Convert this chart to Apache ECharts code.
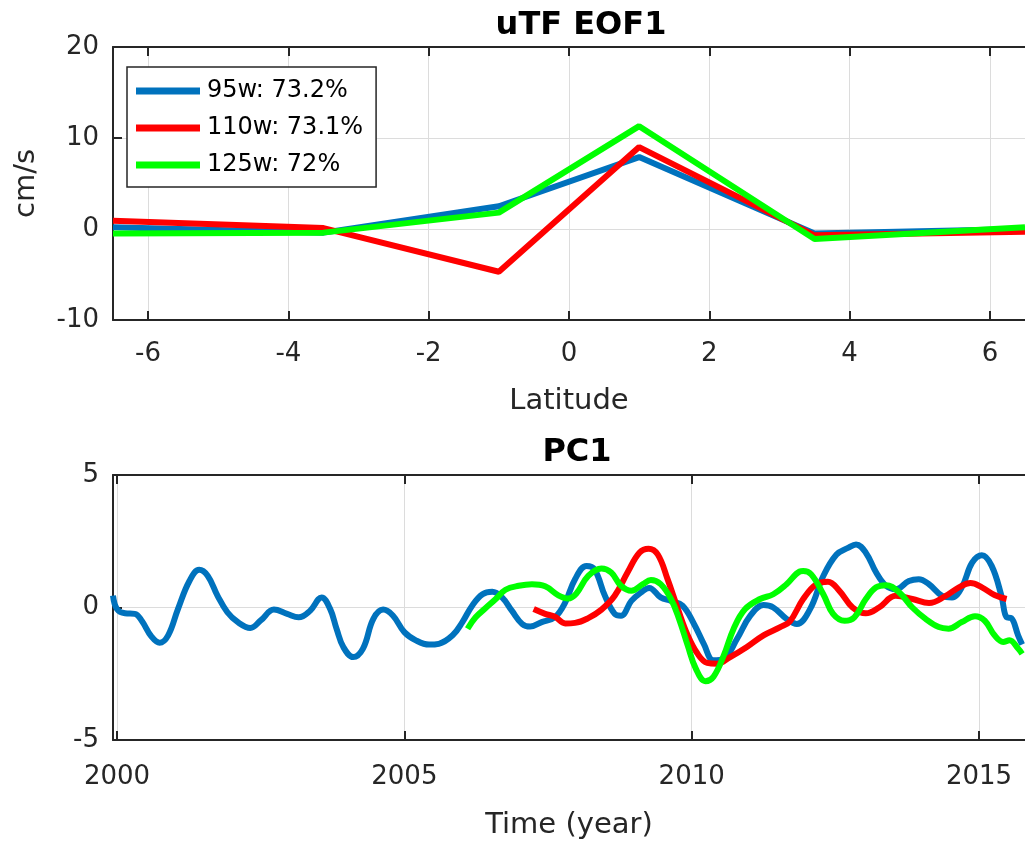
<!DOCTYPE html>
<html>
<head>
<meta charset="utf-8">
<script src="https://cdn.jsdelivr.net/npm/echarts@6/dist/echarts.min.js"></script>
<style>html,body{margin:0;padding:0;background:#fff;}#c{width:1025px;height:841px;}</style>
</head>
<body>
<div id="c"></div>
<script>
// ---- Top panel: uTF EOF1 ----
const latitudes = [-6.5, -3.5, -1, 1, 3.5, 6.5];
const eof95 = [0.2, -0.4, 2.5, 7.9, -0.5, 0.0];
const eof110 = [0.9, 0.1, -4.7, 9.0, -0.7, -0.3];
const eof125 = [-0.5, -0.4, 1.8, 11.3, -1.1, 0.2];
const legendNames = ['95w: 73.2%', '110w: 73.1%', '125w: 72%'];
const latTicks = [-6, -4, -2, 0, 2, 4, 6];

// ---- Bottom panel: PC1 ----
const pcYears95 = [1999.93,2000.0,2000.14,2000.31,2000.43,2000.6,2000.74,2000.89,2001.06,2001.26,2001.43,2001.58,2001.75,2001.92,2002.1,2002.32,2002.5,2002.73,2002.96,2003.16,2003.36,2003.56,2003.71,2003.82,2003.94,2004.11,2004.28,2004.46,2004.63,2004.8,2005.0,2005.2,2005.43,2005.6,2005.84,2006.01,2006.18,2006.36,2006.53,2006.7,2006.87,2007.05,2007.19,2007.39,2007.62,2007.8,2007.97,2008.17,2008.31,2008.49,2008.66,2008.77,2008.95,2009.12,2009.26,2009.46,2009.64,2009.84,2010.04,2010.21,2010.38,2010.56,2010.79,2011.02,2011.25,2011.42,2011.65,2011.83,2012.06,2012.29,2012.52,2012.72,2012.86,2013.03,2013.21,2013.38,2013.55,2013.78,2013.95,2014.13,2014.36,2014.53,2014.7,2014.88,2015.05,2015.22,2015.39,2015.48,2015.56,2015.68,2015.75];
const pc95 = [0.45,-0.06,-0.22,-0.24,-0.5,-1.1,-1.33,-1.05,-0.06,1.0,1.42,1.19,0.44,-0.18,-0.55,-0.77,-0.49,-0.08,-0.24,-0.37,-0.12,0.38,-0.06,-0.8,-1.5,-1.87,-1.55,-0.43,-0.08,-0.3,-0.93,-1.24,-1.4,-1.37,-1.05,-0.55,0.07,0.5,0.59,0.38,-0.12,-0.62,-0.72,-0.55,-0.37,0.19,1.07,1.57,1.44,0.44,-0.24,-0.31,0.25,0.57,0.74,0.38,0.25,0.07,-0.62,-1.37,-1.99,-1.93,-1.18,-0.31,0.09,0.0,-0.43,-0.62,-0.06,1.19,2.0,2.25,2.38,2.07,1.32,0.82,0.69,1.0,1.07,0.88,0.44,0.38,0.76,1.69,1.97,1.57,0.44,-0.37,-0.4,-1.05,-1.4];

const pcYears110 = [2007.25,2007.45,2007.62,2007.8,2007.97,2008.2,2008.43,2008.66,2008.89,2009.09,2009.25,2009.41,2009.58,2009.76,2009.93,2010.1,2010.27,2010.44,2010.67,2010.96,2011.25,2011.54,2011.71,2011.94,2012.17,2012.37,2012.57,2012.8,2013.03,2013.26,2013.55,2013.84,2014.13,2014.42,2014.65,2014.85,2015.05,2015.27,2015.48];
const pc110 = [-0.06,-0.24,-0.35,-0.6,-0.58,-0.4,-0.08,0.44,1.35,2.07,2.22,2.0,1.07,-0.06,-1.05,-1.74,-2.09,-2.12,-1.87,-1.49,-1.05,-0.74,-0.52,0.32,0.88,0.97,0.63,0.0,-0.22,0.0,0.44,0.32,0.17,0.44,0.76,0.92,0.76,0.47,0.32];

const pcYears125 = [2006.1,2006.24,2006.41,2006.59,2006.76,2006.99,2007.22,2007.45,2007.68,2007.85,2007.99,2008.2,2008.43,2008.6,2008.77,2008.95,2009.15,2009.29,2009.46,2009.64,2009.78,2009.93,2010.07,2010.24,2010.38,2010.56,2010.73,2010.93,2011.19,2011.42,2011.65,2011.88,2011.94,2012.08,2012.29,2012.46,2012.66,2012.83,2013.03,2013.21,2013.38,2013.61,2013.84,2014.07,2014.3,2014.47,2014.7,2014.93,2015.1,2015.27,2015.42,2015.53,2015.68,2015.75];
const pc125 = [-0.8,-0.37,-0.03,0.32,0.67,0.82,0.88,0.8,0.46,0.34,0.52,1.19,1.47,1.32,0.82,0.63,0.88,1.04,0.88,0.32,-0.43,-1.43,-2.3,-2.78,-2.61,-1.8,-0.8,-0.06,0.32,0.5,0.88,1.36,1.38,1.25,0.5,-0.24,-0.5,-0.37,0.32,0.76,0.84,0.57,0.0,-0.43,-0.74,-0.8,-0.55,-0.33,-0.5,-1.05,-1.3,-1.24,-1.55,-1.75];
const yearTicks = [2000, 2005, 2010, 2015];

const colors = ['#0072BD', '#FF0000', '#00FF00'];
const FONT = 'DejaVu Sans';
const TXT = '#262626';

function zip(xs, ys) { return xs.map((x, i) => [x, ys[i]]); }

function mkX(grid, min, max, ticks, pos, name, nameGap, margin) {
  const main = pos === 'bottom';
  return {
    type: 'value', gridIndex: grid, position: pos, min: min, max: max,
    axisLine: { show: true, onZero: false, lineStyle: { color: TXT, width: 2 } },
    axisTick: { show: true, inside: true, length: 9, customValues: ticks, lineStyle: { color: TXT, width: 2 } },
    axisLabel: { show: main, customValues: ticks, fontFamily: FONT, fontSize: 26, color: TXT, margin: margin || 20,
                 formatter: function (v) { return String(v); } },
    splitLine: { show: main, lineStyle: { color: '#dcdcdc', width: 1 } },
    name: main ? name : '', nameLocation: 'middle', nameGap: nameGap,
    nameTextStyle: { fontFamily: FONT, fontSize: 29, color: TXT }
  };
}
function mkY(grid, min, max, interval, name) {
  return {
    type: 'value', gridIndex: grid, min: min, max: max, interval: interval,
    axisLine: { show: true, onZero: false, lineStyle: { color: TXT, width: 2 } },
    axisTick: { show: true, inside: true, length: 9, lineStyle: { color: TXT, width: 2 } },
    axisLabel: { fontFamily: FONT, fontSize: 26, color: TXT, margin: 14 },
    splitLine: { show: true, lineStyle: { color: '#dcdcdc', width: 1 } },
    name: name, nameLocation: 'middle', nameGap: 72, nameRotate: 90,
    nameTextStyle: { fontFamily: FONT, fontSize: 29, color: TXT }
  };
}

const chart = echarts.init(document.getElementById('c'), null, { renderer: 'canvas' });
const eofSets = [eof95, eof110, eof125];
const pcSets = [[pcYears95, pc95], [pcYears110, pc110], [pcYears125, pc125]];

const series = [];
eofSets.forEach((vals, i) => series.push({
  type: 'line', name: legendNames[i], xAxisIndex: 0, yAxisIndex: 0,
  data: zip(latitudes, vals), symbol: 'none', showSymbol: false, clip: true,
  lineStyle: { color: colors[i], width: 6 }, itemStyle: { color: colors[i] }
}));
pcSets.forEach((p, i) => series.push({
  type: 'line', name: 'pc' + i, xAxisIndex: 2, yAxisIndex: 1,
  data: zip(p[0], p[1]), symbol: 'none', showSymbol: false, clip: true, smooth: 0.4,
  lineStyle: { color: colors[i], width: 6 }, itemStyle: { color: colors[i] }
}));

chart.setOption({
  animation: false,
  backgroundColor: '#ffffff',
  title: [
    { text: 'uTF EOF1', left: 576, top: 5, textAlign: 'center',
      textStyle: { fontFamily: FONT, fontSize: 32, fontWeight: 'bold', color: '#000' } },
    { text: 'PC1', left: 572, top: 432, textAlign: 'center',
      textStyle: { fontFamily: FONT, fontSize: 32, fontWeight: 'bold', color: '#000' } }
  ],
  legend: {
    data: legendNames, orient: 'vertical', left: 127, top: 67,
    icon: 'rect', itemWidth: 64, itemHeight: 7, itemGap: 13,
    padding: [12, 13, 10, 9], backgroundColor: '#fff',
    borderColor: TXT, borderWidth: 1.5,
    textStyle: { fontFamily: FONT, fontSize: 24, color: '#000', padding: [0, 0, 0, 2] }
  },
  grid: [
    { left: 113, top: 47, right: -13, height: 273, containLabel: false },
    { left: 113, top: 475, right: -7, height: 267, containLabel: false }
  ],
  xAxis: [
    mkX(0, -6.5, 6.5, latTicks, 'bottom', 'Latitude', 67, 21),
    mkX(0, -6.5, 6.5, latTicks, 'top', '', 0),
    mkX(1, 1999.93, 2015.8, yearTicks, 'bottom', 'Time (year)', 71, 24),
    mkX(1, 1999.93, 2015.8, yearTicks, 'top', '', 0)
  ],
  yAxis: [
    mkY(0, -10, 20, 10, 'cm/s'),
    mkY(1, -5, 5, 5, '')
  ],
  series: series
});
</script>
</body>
</html>
